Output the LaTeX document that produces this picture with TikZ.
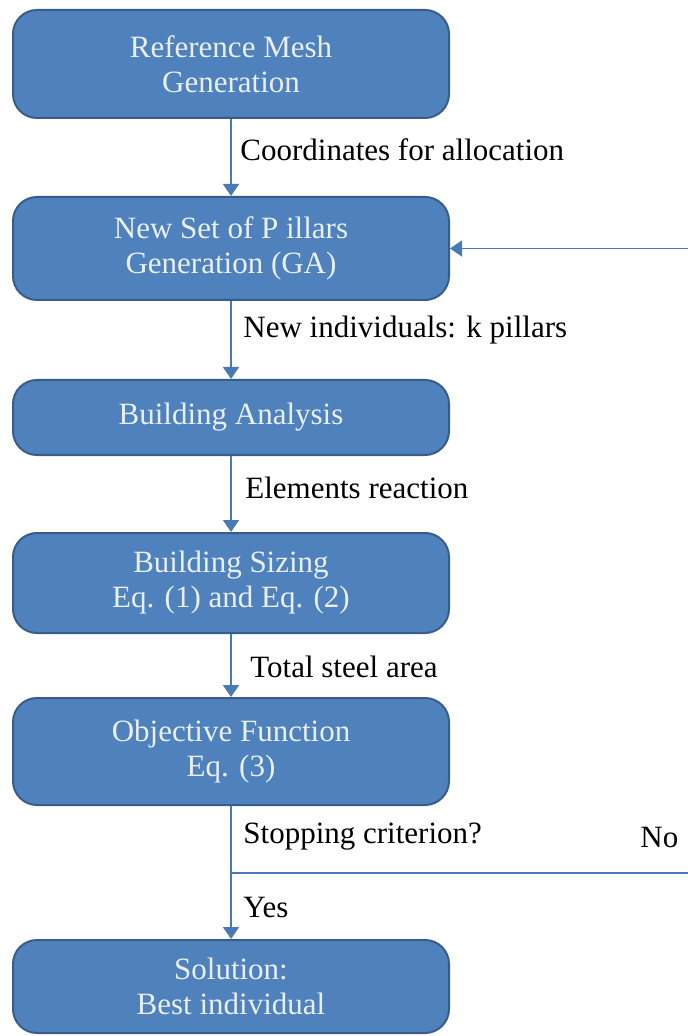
\documentclass[tikz,border=0pt]{standalone}
\usepackage{fontspec}
\setmainfont{Liberation Serif}
\usetikzlibrary{arrows.meta}

\definecolor{boxblue}{RGB}{79,129,189}
\definecolor{boxedge}{RGB}{56,93,138}
\definecolor{boxtext}{RGB}{232,239,248}
\definecolor{flowline}{RGB}{74,122,182}

\begin{document}
\begin{tikzpicture}[x=0.5pt, y=-0.5pt,
    stage/.style={draw=boxedge, line width=1pt, fill=boxblue, rounded corners=12pt,
        text=boxtext, align=center, minimum width=218pt, inner sep=0pt,
        font=\fontsize{15.5}{17.5}\selectfont},
    flow/.style={draw=flowline, line width=0.9pt, -{Triangle[length=6pt,width=8pt]}},
    tag/.style={anchor=west, inner sep=0pt, font=\fontsize{15.5}{17.5}\selectfont}]

    % 1. AREA DA FIGURA (pixels da referencia)
    \useasboundingbox (0,0) rectangle (687,1036);

    % ==========================================
    % 2. ETAPAS DO PROCESSO
    % ==========================================
    \node[stage, minimum height=54pt]   (mesh)      at (231,64)    {Reference Mesh\\Generation};
    \node[stage, minimum height=51.5pt] (pillars)   at (231,248.5) {New Set of P illars\\Generation (GA)};
    \node[stage, minimum height=37.5pt] (analysis)  at (231,417.5) {Building Analysis};
    \node[stage, minimum height=50pt]   (sizing)    at (231,583)   {Building Sizing\\Eq. (1) and Eq. (2)};
    \node[stage, minimum height=53.5pt] (objective) at (231,751.5) {Objective Function\\Eq. (3)};
    \node[stage, minimum height=46.5pt] (solution)  at (231,986.5) {Solution:\\Best individual};

    % ==========================================
    % 3. LIGACOES
    % ==========================================
    \draw[flow] (mesh) -- (pillars);
    \draw[flow] (pillars) -- (analysis);
    \draw[flow] (analysis) -- (sizing);
    \draw[flow] (sizing) -- (objective);
    \draw[flow] (objective) -- (solution);

    % Retorno pela direita (criterio nao atingido)
    \coordinate (split)  at (231,873);
    \coordinate (retbot) at (689,873);
    \coordinate (rettop) at (689,248.5);
    \draw[flow] (split) -- (retbot) -- (rettop) -- (pillars.east);

    % ==========================================
    % 4. ROTULOS
    % ==========================================
    \node[tag] (coords) at (240,150) {Coordinates for allocation};
    \node[tag] (indiv)  at (243,330) {New individuals: k pillars};
    \node[tag] (react)  at (245,488) {Elements reaction};
    \node[tag] (steel)  at (250,667) {Total steel area};
    \node[tag] (stop)   at (243,837) {Stopping criterion?};
    \node[tag] (no)     at (640,837) {No};
    \node[tag] (yes)    at (243,907) {Yes};

\end{tikzpicture}
\end{document}
